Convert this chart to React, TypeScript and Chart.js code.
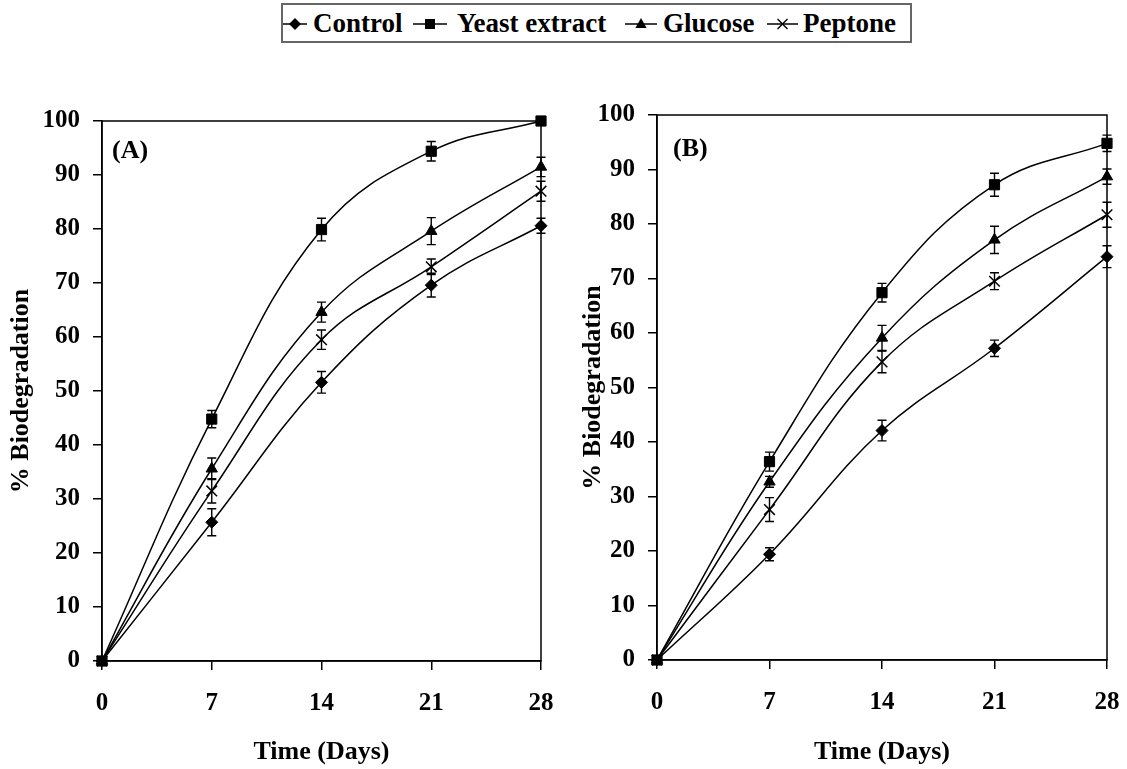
import React, { useEffect, useRef } from 'react';
import { Chart, registerables } from 'chart.js';

Chart.register(...registerables);

// Sampling days
const days = [0, 7, 14, 21, 28];
const xTicks = [0, 7, 14, 21, 28];
const yTicks = [0, 10, 20, 30, 40, 50, 60, 70, 80, 90, 100];

const seriesNames = ['Control', 'Yeast extract', 'Glucose', 'Peptone'];
const seriesMarkers = ['rectRot', 'rect', 'triangle', 'crossRot'];
const seriesMarkerRadius = [6, 7.2, 6.5, 7.5];

// Panel (A): % biodegradation and standard errors
const controlA = [0, 25.7, 51.6, 69.6, 80.6];
const controlErrA = [0, 2.5, 2.0, 2.2, 1.4];
const yeastA = [0, 44.8, 79.9, 94.4, 100];
const yeastErrA = [0, 1.6, 2.1, 1.8, 0];
const glucoseA = [0, 35.6, 64.6, 79.6, 91.5];
const glucoseErrA = [0, 2.0, 1.85, 2.5, 1.8];
const peptoneA = [0, 31.5, 59.5, 73.0, 87.0];
const peptoneErrA = [0, 2.25, 1.8, 1.45, 1.85];

// Panel (B)
const controlB = [0, 19.4, 42.1, 57.2, 74.0];
const controlErrB = [0, 1.2, 1.9, 1.5, 2.0];
const yeastB = [0, 36.4, 67.4, 87.2, 94.8];
const yeastErrB = [0, 1.75, 1.7, 2.1, 1.5];
const glucoseB = [0, 32.7, 59.1, 77.1, 88.7];
const glucoseErrB = [0, 1.0, 2.3, 2.5, 1.4];
const peptoneB = [0, 27.6, 54.7, 69.5, 81.7];
const peptoneErrB = [0, 2.2, 2.0, 1.55, 2.3];

const FONT = '"Liberation Serif", "Times New Roman", serif';

// Vertical error bars with caps
const errorBarPlugin = {
  id: 'errorBars',
  afterDatasetsDraw(chart: any) {
    const { ctx, scales } = chart;
    const xs = scales.x;
    const ys = scales.y;
    ctx.save();
    ctx.strokeStyle = '#000';
    ctx.lineWidth = 1.4;
    chart.data.datasets.forEach((ds: any) => {
      const errs: number[] = ds.errors;
      if (!errs) return;
      ds.data.forEach((pt: any, i: number) => {
        const e = errs[i];
        if (!e) return;
        const px = xs.getPixelForValue(pt.x);
        const yTop = ys.getPixelForValue(pt.y + e);
        const yBot = ys.getPixelForValue(pt.y - e);
        const cap = 4.5;
        ctx.beginPath();
        ctx.moveTo(px, yTop);
        ctx.lineTo(px, yBot);
        ctx.moveTo(px - cap, yTop);
        ctx.lineTo(px + cap, yTop);
        ctx.moveTo(px - cap, yBot);
        ctx.lineTo(px + cap, yBot);
        ctx.stroke();
      });
    });
    ctx.restore();
  },
};

// Plot frame and the panel letter
const framePlugin = {
  id: 'panelFrame',
  beforeDatasetsDraw(chart: any, _args: any, opts: any) {
    const { ctx, chartArea } = chart;
    ctx.save();
    ctx.strokeStyle = '#000';
    ctx.lineWidth = 1.5;
    ctx.strokeRect(chartArea.left, chartArea.top, chartArea.right - chartArea.left, chartArea.bottom - chartArea.top);
    ctx.fillStyle = '#000';
    ctx.font = `bold 26px ${FONT}`;
    ctx.textBaseline = 'alphabetic';
    ctx.textAlign = 'left';
    ctx.fillText(opts.text, chartArea.left + opts.dx, chartArea.top + opts.dy);
    ctx.restore();
  },
};

function makeDatasets(values: number[][], errors: number[][]) {
  return values.map((vals, k) => ({
    label: seriesNames[k],
    data: days.map((d, i) => ({ x: d, y: vals[i] })),
    errors: errors[k],
    borderColor: '#000',
    backgroundColor: '#000',
    borderWidth: 1.5,
    tension: 0.4,
    pointStyle: seriesMarkers[k],
    pointRadius: seriesMarkerRadius[k],
    pointBorderWidth: k === 3 ? 1.5 : 1,
    pointBorderColor: '#000',
    pointBackgroundColor: '#000',
    clip: false,
    fill: false,
  }));
}

interface PanelProps {
  left: number;
  width: number;
  values: number[][];
  errors: number[][];
  label: string;
  labelDx: number;
  labelDy: number;
  padTop: number;
  padRight: number;
  yAxisWidth: number;
  xAxisHeight: number;
  yTitlePad: number;
}

function Panel(p: PanelProps) {
  const ref = useRef<HTMLCanvasElement | null>(null);
  useEffect(() => {
    if (!ref.current) return;
    const chart = new Chart(ref.current, {
      type: 'line',
      data: { datasets: makeDatasets(p.values, p.errors) as any },
      options: {
        animation: false,
        responsive: false,
        devicePixelRatio: 1,
        layout: { padding: { top: p.padTop, right: p.padRight, left: 0, bottom: 0 } },
        plugins: {
          legend: { display: false },
          tooltip: { enabled: false },
          panelFrame: { text: p.label, dx: p.labelDx, dy: p.labelDy },
        } as any,
        scales: {
          x: {
            type: 'linear',
            min: 0,
            max: 28,
            afterBuildTicks: (s: any) => {
              s.ticks = xTicks.map((v) => ({ value: v }));
            },
            afterFit: (s: any) => {
              s.height = p.xAxisHeight;
              s.paddingLeft = 0;
              s.paddingRight = 0;
            },
            grid: { drawOnChartArea: false, drawTicks: true, tickLength: 9, color: '#000', lineWidth: 1.5 },
            border: { display: true, color: '#000', width: 1.5 },
            ticks: { color: '#000', padding: 19, font: { family: FONT, size: 25, weight: 'bold' }, maxRotation: 0 },
            title: {
              display: true,
              text: 'Time (Days)',
              color: '#000',
              font: { family: FONT, size: 26, weight: 'bold' },
              padding: { top: 0, bottom: 1 },
            },
          },
          y: {
            type: 'linear',
            min: 0,
            max: 100,
            afterBuildTicks: (s: any) => {
              s.ticks = yTicks.map((v) => ({ value: v }));
            },
            afterFit: (s: any) => {
              s.width = p.yAxisWidth;
            },
            grid: { drawOnChartArea: false, drawTicks: true, tickLength: 9, color: '#000', lineWidth: 1.5 },
            border: { display: true, color: '#000', width: 1.5 },
            ticks: { color: '#000', padding: 13, font: { family: FONT, size: 25, weight: 'bold' } },
            title: {
              display: true,
              text: '% Biodegradation',
              color: '#000',
              font: { family: FONT, size: 26, weight: 'bold' },
              padding: { top: p.yTitlePad, bottom: 0 },
            },
          },
        },
      } as any,
      plugins: [errorBarPlugin, framePlugin],
    });
    return () => chart.destroy();
  }, []);
  return (
    <canvas
      ref={ref}
      width={p.width}
      height={769}
      style={{ position: 'absolute', left: p.left, top: 0, width: p.width, height: 769 }}
    />
  );
}

function LegendMarker({ kind, w }: { kind: string; w: number }) {
  const cx = w / 2;
  const cy = 10;
  let shape: React.ReactNode = null;
  if (kind === 'rectRot') shape = <polygon points={`${cx - 6},${cy} ${cx},${cy - 6} ${cx + 6},${cy} ${cx},${cy + 6}`} fill="#000" />;
  if (kind === 'rect') shape = <rect x={cx - 5} y={cy - 5} width={10} height={10} fill="#000" />;
  if (kind === 'triangle') shape = <polygon points={`${cx},${cy - 6} ${cx + 5.6},${cy + 4} ${cx - 5.6},${cy + 4}`} fill="#000" />;
  if (kind === 'crossRot')
    shape = (
      <path d={`M${cx - 5} ${cy - 5} L${cx + 5} ${cy + 5} M${cx - 5} ${cy + 5} L${cx + 5} ${cy - 5}`} stroke="#000" strokeWidth={1.4} />
    );
  return (
    <svg width={w} height={20} style={{ display: 'block' }}>
      <line x1={0} y1={cy} x2={w} y2={cy} stroke="#000" strokeWidth={1.5} />
      {shape}
    </svg>
  );
}

// Legend entry placement inside the box (sample start, sample width, text start)
const legendSampleX = [0, 130, 342, 484];
const legendSampleW = [24, 34, 32, 31];
const legendTextX = [30, 174, 380, 520];

export default function App() {
  return (
    <div style={{ position: 'fixed', left: 0, top: 0, width: 1127, height: 769, background: '#fff', overflow: 'hidden' }}>
      <div
        style={{
          position: 'absolute',
          left: 281,
          top: 3,
          width: 627,
          height: 36,
          border: '2px solid #666',
          fontFamily: FONT,
          fontWeight: 'bold',
          fontSize: 27,
          color: '#000',
          zIndex: 2,
          background: '#fff',
        }}
      >
        {seriesNames.map((name, k) => (
          <React.Fragment key={name}>
            <div style={{ position: 'absolute', left: legendSampleX[k], top: 9 }}>
              <LegendMarker kind={seriesMarkers[k]} w={legendSampleW[k]} />
            </div>
            <span style={{ position: 'absolute', left: legendTextX[k], top: 2, lineHeight: '32px', whiteSpace: 'nowrap' }}>
              {name}
            </span>
          </React.Fragment>
        ))}
      </div>
      <Panel
        left={0}
        width={565}
        values={[controlA, yeastA, glucoseA, peptoneA]}
        errors={[controlErrA, yeastErrA, glucoseErrA, peptoneErrA]}
        label="(A)"
        labelDx={10}
        labelDy={37}
        padTop={121}
        padRight={24}
        yAxisWidth={102}
        xAxisHeight={108}
        yTitlePad={6}
      />
      <Panel
        left={565}
        width={562}
        values={[controlB, yeastB, glucoseB, peptoneB]}
        errors={[controlErrB, yeastErrB, glucoseErrB, peptoneErrB]}
        label="(B)"
        labelDx={16}
        labelDy={41}
        padTop={115}
        padRight={20}
        yAxisWidth={92}
        xAxisHeight={109}
        yTitlePad={13}
      />
    </div>
  );
}
